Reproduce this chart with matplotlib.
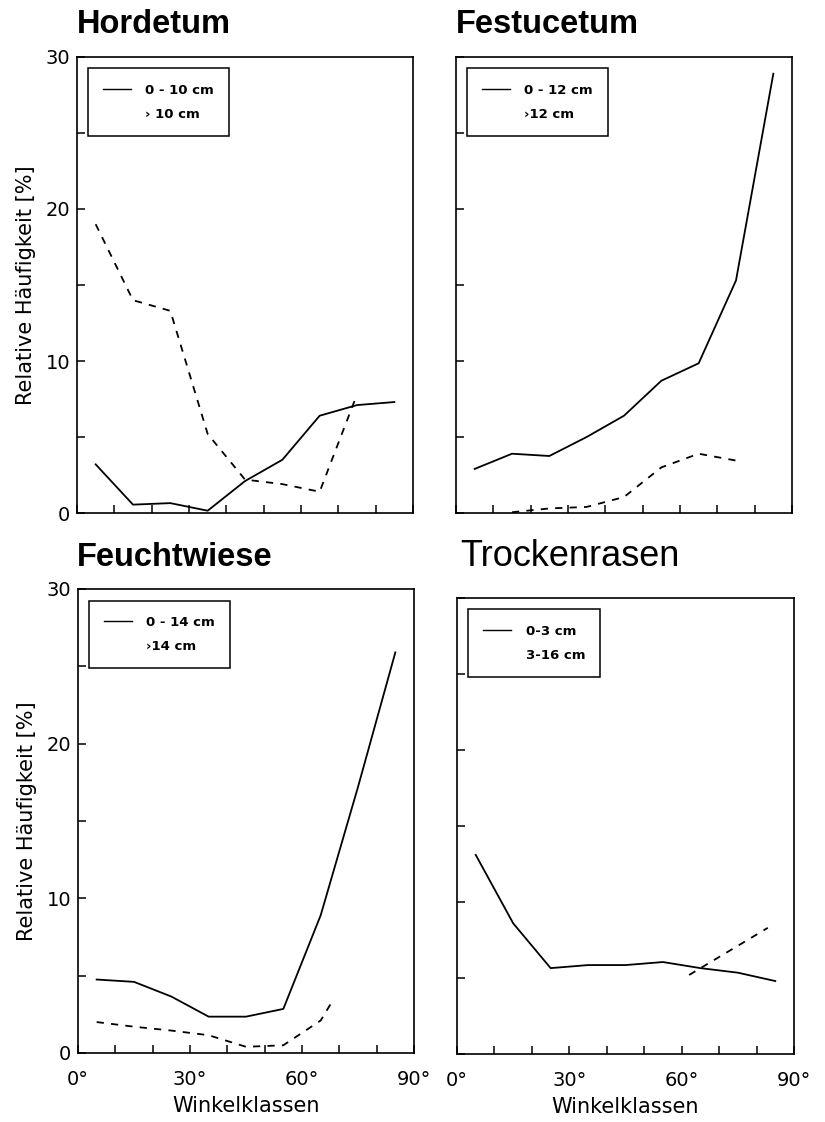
import matplotlib
matplotlib.use('Agg')
import matplotlib.pyplot as plt
from matplotlib.lines import Line2D

# Winkelklassen (Klassenmitten in Grad)
klassen = [5, 15, 25, 35, 45, 55, 65, 75, 85]

hordetum_flach = [3.2, 0.55, 0.65, 0.15, 2.1, 3.5, 6.4, 7.1, 7.3]
hordetum_tief_x = [5, 15, 25, 35, 45, 55, 65, 75]
hordetum_tief = [19.0, 14.0, 13.3, 5.2, 2.2, 1.9, 1.4, 7.8]

festucetum_flach = [2.9, 3.9, 3.75, 5.0, 6.4, 8.7, 9.85, 15.3, 28.9]
festucetum_tief_x = [15, 25, 35, 45, 55, 65, 75]
festucetum_tief = [0.05, 0.3, 0.4, 1.05, 3.0, 3.9, 3.45]

feuchtwiese_flach = [4.75, 4.6, 3.65, 2.35, 2.35, 2.85, 8.9, 17.2, 25.9]
feuchtwiese_tief_x = [5, 15, 25, 35, 45, 55, 65, 68]
feuchtwiese_tief = [2.0, 1.7, 1.45, 1.15, 0.4, 0.5, 2.1, 3.3]

trocken_flach = [13.1, 8.6, 5.65, 5.85, 5.85, 6.05, 5.65, 5.35, 4.8]
trocken_tief_x = [62, 83]
trocken_tief = [5.2, 8.3]

panels = [
    ('Hordetum', 'bold', 23.5, klassen, hordetum_flach, hordetum_tief_x, hordetum_tief,
     '0 - 10 cm', '\u203a 10 cm'),
    ('Festucetum', 'bold', 23.5, klassen, festucetum_flach, festucetum_tief_x, festucetum_tief,
     '0 - 12 cm', '\u203a12 cm'),
    ('Feuchtwiese', 'bold', 23.5, klassen, feuchtwiese_flach, feuchtwiese_tief_x, feuchtwiese_tief,
     '0 - 14 cm', '\u203a14 cm'),
    ('Trockenrasen', 'normal', 26, klassen, trocken_flach, trocken_tief_x, trocken_tief,
     '0-3 cm', '3-16 cm'),
]

W, H = 825, 1122
# axes boxes in pixels: left, top, right, bottom
boxes = [(77, 57, 413, 513), (456, 57, 792, 513),
         (78, 589, 414, 1053), (457, 598, 794, 1054)]
title_pos = [(77, 33), (456, 33), (77, 566), (460, 566)]

fig = plt.figure(figsize=(W / 100, H / 100), dpi=100)

for i, (name, weight, tsize, x1, y1, x2, y2, lab1, lab2) in enumerate(panels):
    l, t, r, b = boxes[i]
    ax = fig.add_axes([l / W, 1 - b / H, (r - l) / W, (b - t) / H])
    ax.plot(x1, y1, color='black', lw=1.3)
    ax.plot(x2, y2, color='black', lw=1.3, linestyle=(0, (4, 4)))
    ax.set_xlim(0, 90)
    ax.set_ylim(0, 30)
    ax.set_xticks(range(0, 91, 10))
    ax.set_yticks(range(0, 31, 5))
    ax.tick_params(direction='in', length=6, width=1.1, labelsize=14)
    for s in ax.spines.values():
        s.set_linewidth(1.2)

    if i >= 2:
        ax.set_xticklabels(['%d\u00b0' % v if v % 30 == 0 else '' for v in range(0, 91, 10)])
        ax.set_xlabel('Winkelklassen', fontsize=15, labelpad=5)
    else:
        ax.set_xticklabels([])
    if i % 2 == 0:
        ax.set_yticklabels([str(v) if v % 10 == 0 else '' for v in range(0, 31, 5)])
        ax.set_ylabel('Relative H\u00e4ufigkeit [%]', fontsize=15, labelpad=7)
    else:
        ax.set_yticklabels([])
    ax.tick_params(axis='x', pad=12)
    ax.tick_params(axis='y', pad=5)

    handles = [Line2D([], [], color='black', lw=1.0),
               Line2D([], [], linestyle='none')]
    leg = ax.legend(handles, [lab1, lab2], loc='upper left',
                    bbox_to_anchor=(0.033, 0.975), borderaxespad=0,
                    fancybox=False, edgecolor='black', framealpha=1,
                    handlelength=2.1, handletextpad=1.1, labelspacing=0.85,
                    borderpad=1.15, prop={'weight': 'bold', 'size': 9.5})
    leg.get_frame().set_linewidth(1.1)

    fig.text(title_pos[i][0] / W, 1 - title_pos[i][1] / H, name,
             fontsize=tsize, fontweight=weight, family='Liberation Sans',
             ha='left', va='baseline')

fig.savefig('out.png', dpi=100)
